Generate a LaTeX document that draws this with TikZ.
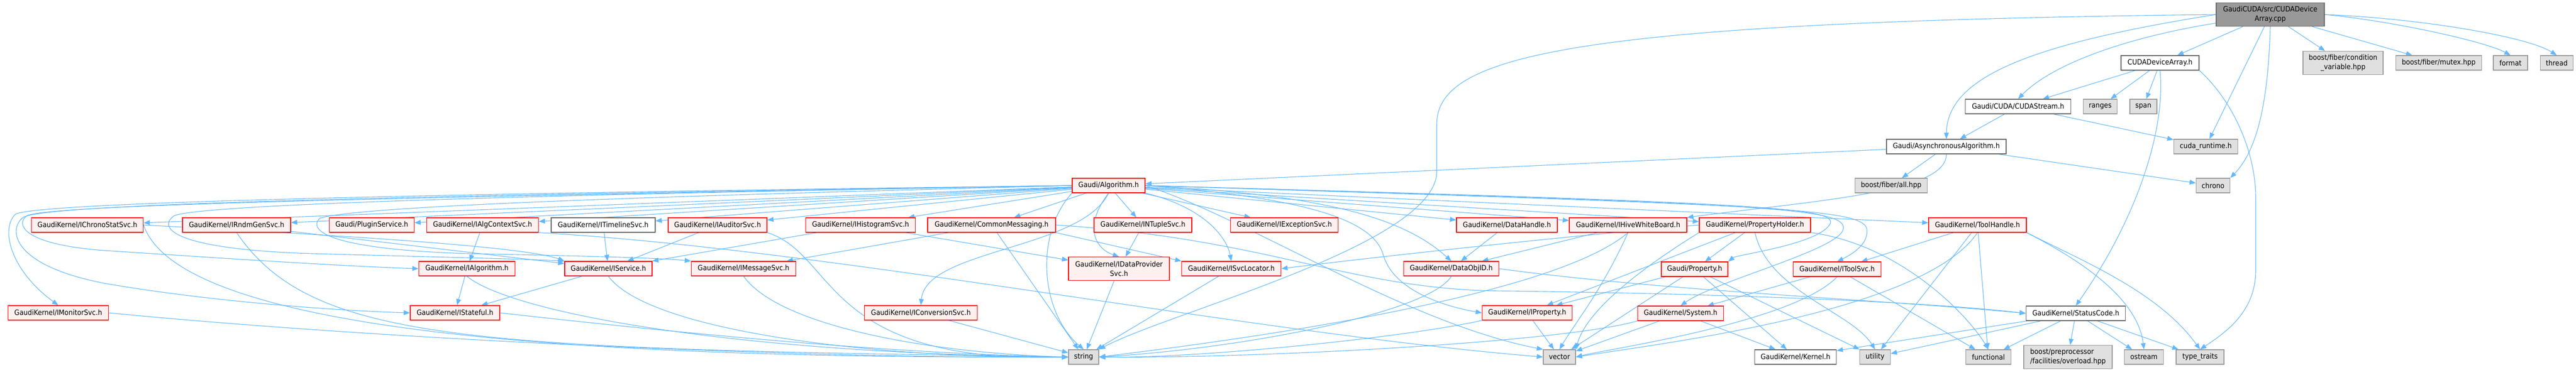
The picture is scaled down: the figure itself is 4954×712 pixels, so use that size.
\documentclass[tikz,border=0pt]{standalone}
\usepackage{fontspec}
\setmainfont{DejaVu Sans}[FakeStretch=0.91]
\usetikzlibrary{arrows.meta}
\definecolor{edgec}{HTML}{63B8FF}
\definecolor{redb}{HTML}{FF0000}
\definecolor{redf}{HTML}{FFF0F0}
\definecolor{grayb}{HTML}{999999}
\definecolor{grayf}{HTML}{E0E0E0}
\definecolor{darkb}{HTML}{666666}
\definecolor{mainf}{HTML}{999999}
\pgfdeclarelayer{edges}
\pgfsetlayers{edges,main}
\tikzset{
  box/.style={draw, line width=0.6pt, inner sep=1pt, minimum height=14pt, font=\fontsize{7}{9}\selectfont, align=center, text=black},
  trunc/.style={box, draw=redb, fill=redf},
  sysh/.style={box, draw=grayb, fill=grayf},
  plain/.style={box, draw=darkb, fill=white},
  mainn/.style={box, draw=darkb, fill=mainf, minimum height=22.5pt},
  tall/.style={minimum height=22.5pt},
  wd/.style={minimum width=#1*0.5pt},
  dep/.style={draw=edgec, line width=0.55pt, -{Triangle[length=6pt,width=4.6pt]}},
}
\begin{document}
\begin{tikzpicture}[x=0.5pt,y=-0.5pt]
\useasboundingbox (0,0) rectangle (4954,712);
% ---------- nodes ----------
\node[mainn,wd=208] (main) at (4366,28) {GaudiCUDA/src/CUDADevice\\Array.cpp};
\node[plain,wd=150] (cda) at (4154,121) {CUDADeviceArray.h};
\node[sysh,wd=154,tall] (bfcv) at (4506,121) {boost/fiber/condition\\\_variable.hpp};
\node[sysh,wd=165] (bfm) at (4690,121) {boost/fiber/mutex.hpp};
\node[sysh,wd=66] (fmt) at (4828,121) {format};
\node[sysh,wd=63] (thr) at (4917,121) {thread};
\node[plain,wd=203] (cst) at (3881,205) {Gaudi/CUDA/CUDAStream.h};
\node[sysh,wd=65] (rng) at (4039,205) {ranges};
\node[sysh,wd=52] (spn) at (4122,205) {span};
\node[plain,wd=230] (asy) at (3743,282) {Gaudi/AsynchronousAlgorithm.h};
\node[sysh,wd=123] (cur) at (4242,282) {cuda\_runtime.h};
\node[trunc,wd=140] (alg) at (2132,357) {Gaudi/Algorithm.h};
\node[sysh,wd=139] (bfa) at (3637,357) {boost/fiber/all.hpp};
\node[sysh,wd=65] (chr) at (4256,357) {chrono};
% row 433
\node[trunc,wd=215] (ichr) at (168,433) {GaudiKernel/IChronoStatSvc.h};
\node[trunc,wd=208] (irnd) at (455,433) {GaudiKernel/IRndmGenSvc.h};
\node[trunc,wd=163] (plug) at (715,433) {Gaudi/PluginService.h};
\node[trunc,wd=215] (iactx) at (928,433) {GaudiKernel/IAlgContextSvc.h};
\node[plain,wd=200] (itl) at (1160,433) {GaudiKernel/ITimelineSvc.h};
\node[trunc,wd=190] (iaud) at (1380,433) {GaudiKernel/IAuditorSvc.h};
\node[trunc,wd=211] (ihis) at (1655,433) {GaudiKernel/IHistogramSvc.h};
\node[trunc,wd=246] (cmsg) at (1907,433) {GaudiKernel/CommonMessaging.h};
\node[trunc,wd=188] (ntup) at (2198,433) {GaudiKernel/INTupleSvc.h};
\node[trunc,wd=207] (iexc) at (2470,433) {GaudiKernel/IExceptionSvc.h};
\node[trunc,wd=194] (dh) at (2898,433) {GaudiKernel/DataHandle.h};
\node[trunc,wd=226] (ihwb) at (3131,433) {GaudiKernel/IHiveWhiteBoard.h};
\node[trunc,wd=214] (ph) at (3375,433) {GaudiKernel/PropertyHolder.h};
\node[trunc,wd=188] (th) at (3803,433) {GaudiKernel/ToolHandle.h};
% row 517
\node[trunc,wd=185] (ialg) at (898,517) {GaudiKernel/IAlgorithm.h};
\node[trunc,wd=168] (isvc) at (1170,517) {GaudiKernel/IService.h};
\node[trunc,wd=201] (imsg) at (1430,517) {GaudiKernel/IMessageSvc.h};
\node[trunc,wd=194,tall] (idp) at (2152,517) {GaudiKernel/IDataProvider\\Svc.h};
\node[trunc,wd=191] (isl) at (2368,517) {GaudiKernel/ISvcLocator.h};
\node[trunc,wd=183] (doid) at (2791,517) {GaudiKernel/DataObjID.h};
\node[trunc,wd=128] (prop) at (3259,518) {Gaudi/Property.h};
\node[trunc,wd=169] (itsv) at (3533,518) {GaudiKernel/IToolSvc.h};
% row 602
\node[trunc,wd=193] (imon) at (112,602) {GaudiKernel/IMonitorSvc.h};
\node[trunc,wd=172] (istf) at (875,602) {GaudiKernel/IStateful.h};
\node[trunc,wd=217] (iconv) at (1771,602) {GaudiKernel/IConversionSvc.h};
\node[trunc,wd=173] (iprop) at (2937,602) {GaudiKernel/IProperty.h};
\node[trunc,wd=165] (sys) at (3232,603) {GaudiKernel/System.h};
\node[plain,wd=191] (sc) at (3992,603) {GaudiKernel/StatusCode.h};
% row 687
\node[sysh,wd=58] (str) at (2084,687) {string};
\node[sysh,wd=62] (vec) at (2999,687) {vector};
\node[plain,wd=157] (ker) at (3453,687) {GaudiKernel/Kernel.h};
\node[sysh,wd=59] (utl) at (3606,687) {utility};
\node[sysh,wd=87] (fun) at (3824,687) {functional};
\node[sysh,wd=170,tall,align=left] (bpp) at (3977,687) {boost/preprocessor\\/facilities/overload.hpp};
\node[sysh,wd=75] (ost) at (4123,687) {ostream};
\node[sysh,wd=92] (tt) at (4231,687) {type\_traits};
% ---------- edges ----------
\begin{pgfonlayer}{edges}
% main
\draw[dep] (main.west) .. controls (3000,42) and (2763,110) .. (2763,240) -- (2763,330) .. controls (2763,470) and (2250,600) .. (str.north east);
\draw[dep] (main.west) .. controls (3900,85) and (3745,150) .. (asy.north);
\draw[dep] (main) .. controls (4100,70) and (3950,120) .. (cst.north);
\draw[dep] (main) -- (cda);
\draw[dep] (main) -- (cur);
\draw[dep] (main.south) .. controls (4362,200) and (4340,290) .. (chr.north east);
\draw[dep] (main) -- (bfcv);
\draw[dep] (main) -- (bfm);
\draw[dep] (main.east) .. controls (4600,40) and (4780,80) .. (fmt.north);
\draw[dep] (main.east) .. controls (4650,35) and (4860,70) .. (thr.north);
% CUDADeviceArray
\draw[dep] (cda) -- (cst);
\draw[dep] (cda) -- (rng);
\draw[dep] (cda) -- (spn);
\draw[dep] (cda.south) .. controls (4165,250) and (4110,420) .. (sc.north);
\draw[dep] (cda.south east) .. controls (4300,200) and (4338,300) .. (4338,380) -- (4338,520) .. controls (4338,600) and (4280,640) .. (tt.north);
% CUDAStream / Async
\draw[dep] (cst) -- (asy);
\draw[dep] (cst) -- (cur);
\draw[dep] (asy) -- (alg);
\draw[dep] (asy) -- (bfa);
\draw[dep] (asy) -- (chr);
\draw[dep] (asy.south) .. controls (3745,370) and (3500,385) .. (ihwb.north east);
% Algorithm
\draw[dep] (alg) -- (ichr);
\draw[dep] (alg) -- (irnd);
\draw[dep] (alg) -- (plug);
\draw[dep] (alg) -- (iactx);
\draw[dep] (alg) -- (itl);
\draw[dep] (alg) -- (iaud);
\draw[dep] (alg) -- (ihis);
\draw[dep] (alg) -- (cmsg);
\draw[dep] (alg) -- (ntup);
\draw[dep] (alg) -- (iexc);
\draw[dep] (alg) -- (dh);
\draw[dep] (alg) -- (ihwb);
\draw[dep] (alg) -- (ph);
\draw[dep] (alg) -- (th);
\draw[dep] (alg.west) .. controls (900,372) and (80,388) .. (30,412) .. controls (0,440) and (20,520) .. (imon.north);
\draw[dep] (alg.west) .. controls (900,375) and (95,390) .. (45,418) .. controls (15,440) and (20,510) .. (200,545) .. controls (400,580) and (650,598) .. (istf.west);
\draw[dep] (alg.west) .. controls (900,378) and (100,392) .. (52,415) .. controls (30,430) and (40,470) .. (200,482) .. controls (400,495) and (650,512) .. (ialg.west);
\draw[dep] (alg.west) .. controls (1200,372) and (400,390) .. (335,415) .. controls (300,440) and (340,480) .. (600,488) .. controls (850,495) and (1000,498) .. (isvc.north west);
\draw[dep] (alg.west) .. controls (1500,372) and (700,392) .. (615,420) .. controls (590,445) and (640,480) .. (900,488) .. controls (1150,493) and (1280,497) .. (imsg.north west);
\draw[dep] (alg.south) .. controls (2080,480) and (1780,480) .. (iconv.north);
\draw[dep] (alg.south) .. controls (2080,440) and (2110,480) .. (idp.north);
\draw[dep] (alg.south east) .. controls (2320,400) and (2360,460) .. (isl.north);
\draw[dep] (alg.east) .. controls (2550,375) and (2700,420) .. (doid.north);
\draw[dep] (alg.east) .. controls (2500,380) and (2640,420) .. (2660,490) .. controls (2680,560) and (2780,590) .. (iprop.west);
\draw[dep] (alg.east) .. controls (3400,390) and (3530,400) .. (3520,430) .. controls (3500,470) and (3340,490) .. (prop.north east);
\draw[dep] (alg.east) .. controls (3400,392) and (3550,400) .. (3545,440) .. controls (3540,480) and (3300,540) .. (sys.north);
\draw[dep] (alg.east) .. controls (3400,395) and (3580,400) .. (3590,440) .. controls (3595,470) and (3560,490) .. (itsv.north);
\draw[dep] (alg.south west) .. controls (1990,450) and (2000,600) .. (str.north);
\draw[dep] (alg.east) .. controls (2400,420) and (2700,620) .. (vec.north west);
% row 433 left
\draw[dep] (ichr.east) .. controls (500,445) and (1000,470) .. (isvc.north west);
\draw[dep] (ichr.east) .. controls (350,650) and (1200,690) .. (str.west);
\draw[dep] (irnd) -- (isvc);
\draw[dep] (irnd.south) .. controls (600,660) and (900,670) .. (str.west);
\draw[dep] (iactx) -- (ialg);
\draw[dep] (iactx.south east) .. controls (1600,480) and (2400,640) .. (vec.west);
\draw[dep] (itl) -- (isvc);
\draw[dep] (iaud) -- (isvc);
\draw[dep] (iaud.south east) .. controls (1610,490) and (1580,700) .. (str.west);
\draw[dep] (ihis) -- (isvc);
\draw[dep] (ihis) -- (idp);
\draw[dep] (cmsg) -- (imsg);
\draw[dep] (cmsg.south east) -- (isl.north west);
\draw[dep] (cmsg) -- (str);
\draw[dep] (cmsg.east) .. controls (2450,460) and (2600,560) .. (2900,560) .. controls (3300,565) and (3700,580) .. (sc.west);
\draw[dep] (ntup) -- (idp);
% row 517/602 left
\draw[dep] (ialg) -- (istf);
\draw[dep] (ialg.south) .. controls (980,600) and (1400,680) .. (str.west);
\draw[dep] (isvc) -- (istf);
\draw[dep] (isvc.south) .. controls (1250,640) and (1700,690) .. (str.west);
\draw[dep] (imsg.south) .. controls (1500,630) and (1800,680) .. (str.west);
\draw[dep] (istf.east) .. controls (1300,640) and (1700,680) .. (str.west);
\draw[dep] (imon.east) .. controls (700,650) and (1500,690) .. (str.west);
\draw[dep] (iconv) -- (str);
\draw[dep] (idp) -- (str);
\draw[dep] (isl) -- (str);
% right part
\draw[dep] (dh) -- (doid);
\draw[dep] (ihwb) -- (doid);
\draw[dep] (ihwb.south) .. controls (3000,560) and (2500,640) .. (str.east);
\draw[dep] (ihwb.south) .. controls (3080,560) and (3030,620) .. (vec.north);
\draw[dep] (doid.south) .. controls (2750,600) and (2400,670) .. (str.east);
\draw[dep] (doid.east) .. controls (3200,560) and (3600,575) .. (sc.west);
\draw[dep] (ph) -- (prop);
\draw[dep] (ph) -- (iprop);
\draw[dep] (ph.west) .. controls (3000,455) and (2600,500) .. (isl.east);
\draw[dep] (ph.south) .. controls (3400,560) and (3560,600) .. (utl.north);
\draw[dep] (ph.south east) .. controls (3650,470) and (3780,600) .. (fun.north);
\draw[dep] (ph.south west) .. controls (3150,520) and (3050,600) .. (vec.north east);
\draw[dep] (prop) -- (iprop);
\draw[dep] (prop) -- (ker);
\draw[dep] (prop) -- (utl);
\draw[dep] (prop) -- (vec);
\draw[dep] (itsv) -- (sys);
\draw[dep] (itsv) -- (fun);
\draw[dep] (itsv.south) .. controls (3450,620) and (3100,670) .. (vec.east);
\draw[dep] (th) -- (itsv);
\draw[dep] (th) -- (utl);
\draw[dep] (th) -- (fun);
\draw[dep] (th.south east) .. controls (4000,500) and (4150,560) .. (tt.north);
\draw[dep] (th.south east) .. controls (3960,480) and (4110,560) .. (ost.north);
\draw[dep] (th.south) .. controls (3700,600) and (3200,660) .. (vec.east);
\draw[dep] (iprop) -- (vec);
\draw[dep] (iprop.south west) .. controls (2700,650) and (2300,690) .. (str.east);
\draw[dep] (sys) -- (ker);
\draw[dep] (sys) -- (vec);
\draw[dep] (sys.south west) .. controls (3000,660) and (2400,690) .. (str.east);
\draw[dep] (sc) -- (bpp);
\draw[dep] (sc) -- (fun);
\draw[dep] (sc) -- (utl);
\draw[dep] (sc) -- (ker);
\draw[dep] (sc) -- (ost);
\draw[dep] (sc) -- (tt);
\end{pgfonlayer}
\end{tikzpicture}
\end{document}
